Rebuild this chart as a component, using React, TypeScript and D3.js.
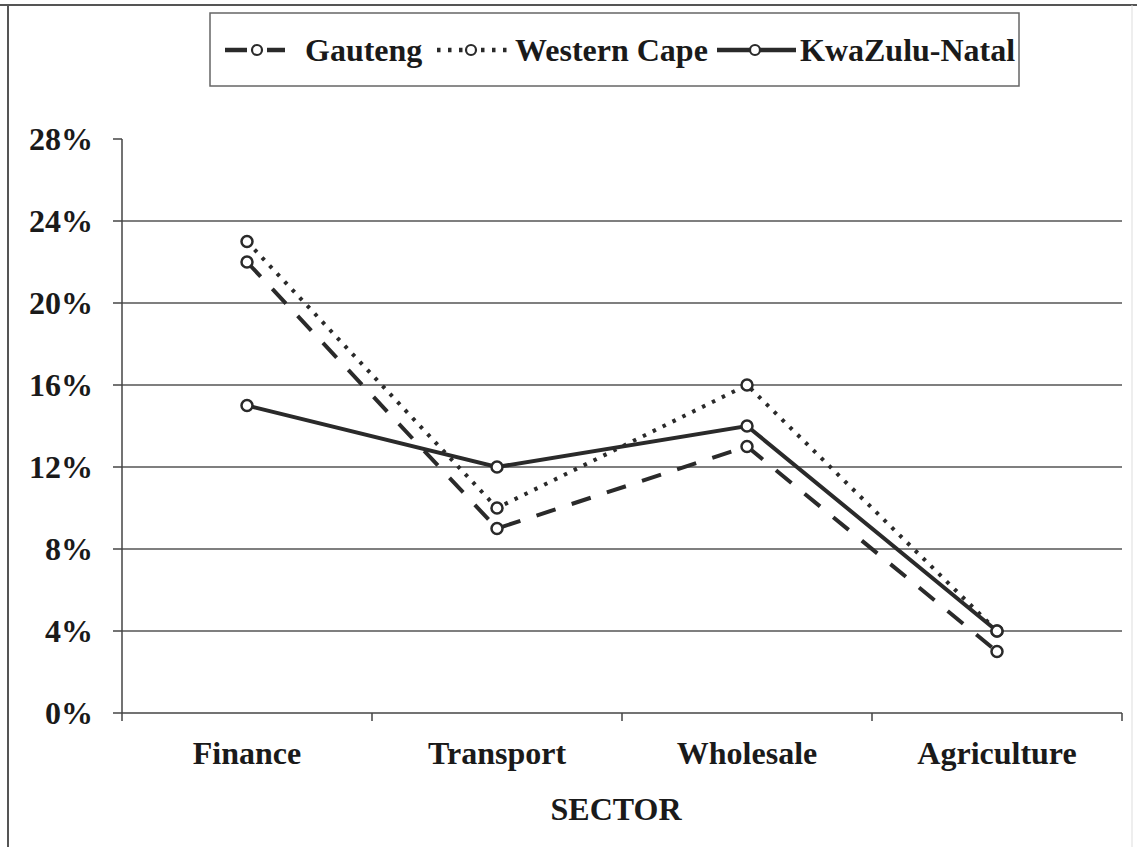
import React from "react";
import * as d3 from "d3";

const categories = ["Finance", "Transport", "Wholesale", "Agriculture"];
const gauteng = [22, 9, 13, 3];
const westernCape = [23, 10, 16, 4];
const kwazuluNatal = [15, 12, 14, 4];
const yTicks = [0, 4, 8, 12, 16, 20, 24, 28];
const seriesNames = ["Gauteng", "Western Cape", "KwaZulu-Natal"];

const W = 1137;
const H = 847;
const FONT = "'Liberation Serif', 'Times New Roman', serif";
const INK = "#2a2a2a";
const FS = 32;

export default function App() {
  const left = 122, right = 1122, top = 139, bottom = 713;
  const x = d3.scaleBand<string>().domain(categories).range([left, right]);
  const y = d3.scaleLinear().domain([0, 28]).range([bottom, top]);
  const line = d3
    .line<number>()
    .x((_, i) => (x(categories[i]) as number) + x.bandwidth() / 2)
    .y((d) => y(d));

  const series = [
    { name: seriesNames[0], values: gauteng, dash: "20,17" },
    { name: seriesNames[1], values: westernCape, dash: "3.5,7.5" },
    { name: seriesNames[2], values: kwazuluNatal, dash: "none" },
  ];

  const boundaries = [...categories.map((c) => x(c) as number), right];

  // legend layout
  const ly = 50;
  const legendItems = [
    { s: series[0], segs: [[225, 247], [267, 285]], cx: 257, tx: 305, dash: "none" },
    { s: series[1], segs: [[437, 511]], cx: 471, tx: 515, dash: "3.5,7.5" },
    { s: series[2], segs: [[717, 796]], cx: 755, tx: 800, dash: "none" },
  ];

  return (
    <svg width={W} height={H} style={{ position: "absolute", left: 0, top: 0, background: "#fff" }}>
      <rect x={0} y={0} width={W} height={H} fill="#fff" />
      {/* outer frame */}
      <line x1={0} x2={W} y1={5} y2={5} stroke="#555" strokeWidth={2} />
      <line x1={8} x2={8} y1={5} y2={H} stroke="#555" strokeWidth={2} />
      <line x1={1132} x2={1132} y1={5} y2={H} stroke="#ddd" strokeWidth={1} />

      {/* legend */}
      <rect x={210} y={13} width={809} height={73} fill="#fff" stroke="#666" strokeWidth={1.5} />
      {legendItems.map((it) => (
        <g key={it.s.name}>
          {it.segs.map((sg, j) => (
            <line
              key={j}
              x1={sg[0]}
              x2={sg[1]}
              y1={ly}
              y2={ly}
              stroke={INK}
              strokeWidth={4.5}
              strokeDasharray={it.dash}
            />
          ))}
          <circle cx={it.cx} cy={ly} r={5} fill="#fff" stroke={INK} strokeWidth={2.2} />
          <text x={it.tx} y={ly} dy="0.35em" fontFamily={FONT} fontWeight="bold" fontSize={FS} fill="#1a1a1a">
            {it.s.name}
          </text>
        </g>
      ))}

      {/* gridlines */}
      {yTicks.slice(1, -1).map((t) => (
        <line key={"g" + t} x1={left} x2={right} y1={y(t)} y2={y(t)} stroke="#555" strokeWidth={1.5} />
      ))}
      {/* y axis */}
      <line x1={left} x2={left} y1={top} y2={bottom} stroke="#444" strokeWidth={1.5} />
      {yTicks.map((t) => (
        <g key={"t" + t}>
          <line x1={left - 9} x2={left} y1={y(t)} y2={y(t)} stroke="#444" strokeWidth={1.5} />
          <text x={93} y={y(t)} dy="0.35em" textAnchor="end" fontFamily={FONT} fontWeight="bold" fontSize={FS} fill="#1a1a1a">
            {t + "%"}
          </text>
        </g>
      ))}
      {/* x axis */}
      <line x1={left} x2={right} y1={bottom} y2={bottom} stroke="#444" strokeWidth={1.5} />
      {boundaries.map((b, i) => (
        <line key={"b" + i} x1={b} x2={b} y1={bottom} y2={bottom + 8} stroke="#444" strokeWidth={1.5} />
      ))}
      {categories.map((c) => (
        <text
          key={c}
          x={(x(c) as number) + x.bandwidth() / 2}
          y={764}
          textAnchor="middle"
          fontFamily={FONT}
          fontWeight="bold"
          fontSize={FS}
          fill="#1a1a1a"
        >
          {c}
        </text>
      ))}
      <text x={616} y={820} textAnchor="middle" fontFamily={FONT} fontWeight="bold" fontSize={FS} fill="#1a1a1a">
        SECTOR
      </text>

      {/* series */}
      {series.map((s) => (
        <path
          key={s.name}
          d={line(s.values) as string}
          fill="none"
          stroke={INK}
          strokeWidth={4}
          strokeDasharray={s.dash}
        />
      ))}
      {series.map((s) =>
        s.values.map((v, i) => (
          <circle
            key={s.name + i}
            cx={(x(categories[i]) as number) + x.bandwidth() / 2}
            cy={y(v)}
            r={5.5}
            fill="#fff"
            stroke={INK}
            strokeWidth={2.5}
          />
        ))
      )}
    </svg>
  );
}
